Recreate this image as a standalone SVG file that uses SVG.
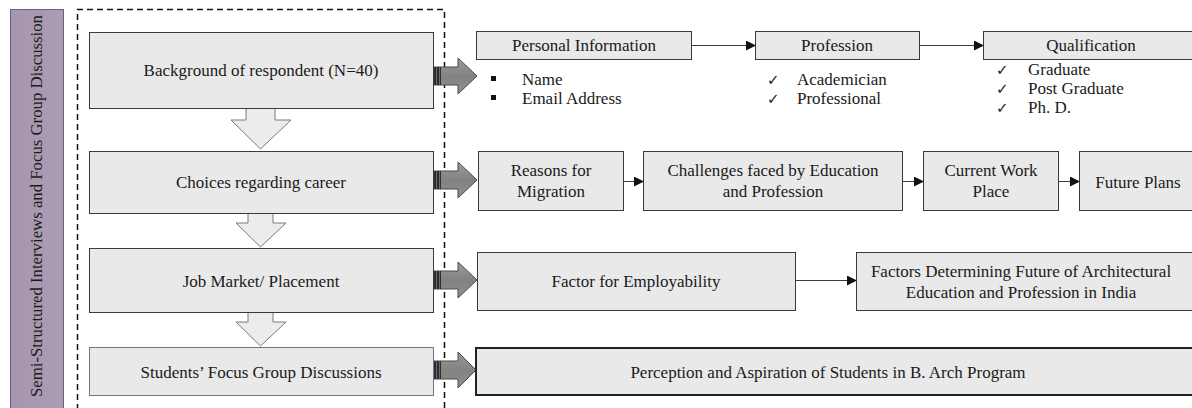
<svg xmlns="http://www.w3.org/2000/svg" width="1192" height="408" viewBox="0 0 1192 408">
<defs>
<style>
.box{fill:#e9e9e9;stroke:#3a3a3a;stroke-width:1}
.t{font-family:"Liberation Serif","Times New Roman",serif;font-size:17px;fill:#1a1a1a}
.c{text-anchor:middle}
.conn{stroke:#3a3a3a;stroke-width:1;fill:none}
.down{fill:#ececec;stroke:#7a7a7a;stroke-width:1}
.big{fill:url(#gg);stroke:#4a4a4a;stroke-width:1}
.chk{font-family:"DejaVu Sans",sans-serif;font-size:15px;fill:#1a1a1a}
</style>
<linearGradient id="gg" x1="0" y1="0" x2="0" y2="1">
<stop offset="0" stop-color="#9c9c9c"/>
<stop offset="0.5" stop-color="#828282"/>
<stop offset="1" stop-color="#8e8e8e"/>
</linearGradient>
<linearGradient id="pb" x1="0" y1="0" x2="1" y2="0">
<stop offset="0" stop-color="#a596ae"/>
<stop offset="1" stop-color="#ab9db4"/>
</linearGradient>
<marker id="ah" markerWidth="10" markerHeight="10" refX="9" refY="5" orient="auto" markerUnits="userSpaceOnUse">
<path d="M0,0 L10,5 L0,10 Z" fill="#111"/>
</marker>
</defs>
<rect width="1192" height="408" fill="#ffffff"/>

<g id="side-label">
<rect x="10.5" y="9.5" width="53" height="400" fill="url(#pb)" stroke="#6f5c82" stroke-width="1"/>
<text class="t c" transform="translate(42,206) rotate(-90)" textLength="382" lengthAdjust="spacingAndGlyphs">Semi-Structured Interviews and Focus Group Discussion</text>
</g>

<g id="dashed-frame">
<path d="M77.5,410 V9.5 H444.5 V410" fill="none" stroke="#111" stroke-width="1.5" stroke-dasharray="6,4"/>
</g>

<g id="connectors">
<path class="down" d="M246,108 V120 H231 L260.5,149 L291,120 H275 V108"/>
<path class="down" d="M248,213 V223 H236 L260.5,247 L286,223 H273 V213"/>
<path class="down" d="M248,312 V322 H236 L260.5,346 L286,322 H273 V312"/>

<g id="big-arrows">
<path class="big" d="M433,67 H458 V58 L477,76 L458,94 V85 H433 Z"/>
<path class="big" d="M433,171 H458 V162 L477,180 L458,198 V189 H433 Z"/>
<path class="big" d="M433,271 H458 V262 L477,280 L458,298 V289 H433 Z"/>
<path class="big" d="M433,361 H458 V352 L476,370 L458,388 V379 H433 Z"/>
<g fill="#2e2e2e">
<rect x="433" y="67" width="8" height="18"/>
<rect x="433" y="171" width="8" height="18"/>
<rect x="433" y="271" width="8" height="18"/>
<rect x="433" y="361" width="8" height="18"/>
</g>
<g stroke="#6a6a6a" stroke-width="1">
<path d="M436.5,67 V85 M439.5,67 V85"/>
<path d="M436.5,171 V189 M439.5,171 V189"/>
<path d="M436.5,271 V289 M439.5,271 V289"/>
<path d="M436.5,361 V379 M439.5,361 V379"/>
</g>
</g>

<path class="conn" d="M691,45.5 H755" marker-end="url(#ah)"/>
<path class="conn" d="M919,45.5 H983" marker-end="url(#ah)"/>
<path class="conn" d="M623,181.5 H643" marker-end="url(#ah)"/>
<path class="conn" d="M902,181.5 H923" marker-end="url(#ah)"/>
<path class="conn" d="M1058,181.5 H1079" marker-end="url(#ah)"/>
<path class="conn" d="M795,280.5 H856" marker-end="url(#ah)"/>
</g>

<g id="n-background">
<rect class="box" x="89.5" y="32.5" width="344" height="76"/>
<text class="t c" x="261" y="76">Background of respondent  (N=40)</text>
</g>
<g id="n-choices">
<rect class="box" x="89.5" y="151.5" width="344" height="62"/>
<text class="t c" x="261" y="188">Choices regarding  career</text>
</g>
<g id="n-job">
<rect class="box" x="89.5" y="248.5" width="344" height="64"/>
<text class="t c" x="261" y="287">Job Market/ Placement</text>
</g>
<g id="n-students">
<rect class="box" x="89.5" y="347.5" width="344" height="48" style="stroke:#7d6c90"/>
<text class="t c" x="261" y="378">Students’ Focus Group Discussions</text>
</g>

<g id="n-personal">
<rect class="box" x="476.5" y="31.5" width="215" height="28"/>
<text class="t c" x="584" y="51">Personal Information</text>
<rect x="491" y="76" width="5" height="5" fill="#111"/>
<rect x="491" y="95" width="5" height="5" fill="#111"/>
<text class="t" x="522" y="85">Name</text>
<text class="t" x="522" y="104">Email Address</text>
</g>
<g id="n-profession">
<rect class="box" x="755.5" y="31.5" width="164" height="28"/>
<text class="t c" x="837" y="51">Profession</text>
<text class="chk" x="767" y="85">✓</text>
<text class="chk" x="767" y="104">✓</text>
<text class="t" x="797" y="85">Academician</text>
<text class="t" x="797" y="104">Professional</text>
</g>
<g id="n-qualification">
<rect class="box" x="983.5" y="31.5" width="210" height="28"/>
<text class="t c" x="1091" y="51">Qualification</text>
<text class="chk" x="996" y="75">✓</text>
<text class="chk" x="996" y="94">✓</text>
<text class="chk" x="996" y="113">✓</text>
<text class="t" x="1028" y="75">Graduate</text>
<text class="t" x="1028" y="94">Post Graduate</text>
<text class="t" x="1028" y="113">Ph. D.</text>
</g>

<g id="n-reasons">
<rect class="box" x="478.5" y="151.5" width="145" height="59"/>
<text class="t c" x="551" y="176">Reasons for</text>
<text class="t c" x="551" y="197">Migration</text>
</g>
<g id="n-challenges">
<rect class="box" x="643.5" y="151.5" width="259" height="59"/>
<text class="t c" x="773" y="176">Challenges  faced by Education</text>
<text class="t c" x="773" y="197">and Profession</text>
</g>
<g id="n-current">
<rect class="box" x="923.5" y="151.5" width="135" height="59"/>
<text class="t c" x="991" y="176">Current Work</text>
<text class="t c" x="991" y="197">Place</text>
</g>
<g id="n-future">
<rect class="box" x="1079.5" y="151.5" width="118" height="59"/>
<text class="t c" x="1138" y="188">Future Plans</text>
</g>

<g id="n-factor">
<rect class="box" x="477.5" y="252.5" width="318" height="58"/>
<text class="t c" x="636" y="287">Factor for Employability</text>
</g>
<g id="n-factors-future">
<rect class="box" x="856.5" y="252.5" width="340" height="58"/>
<text class="t c" x="1021" y="277">Factors Determining Future of Architectural</text>
<text class="t c" x="1021" y="298">Education and Profession in India</text>
</g>

<g id="n-perception">
<rect class="box" x="476" y="348" width="722" height="47" style="stroke:#222;stroke-width:2"/>
<text class="t c" x="828" y="378">Perception and Aspiration of Students in B. Arch Program</text>
</g>
</svg>
